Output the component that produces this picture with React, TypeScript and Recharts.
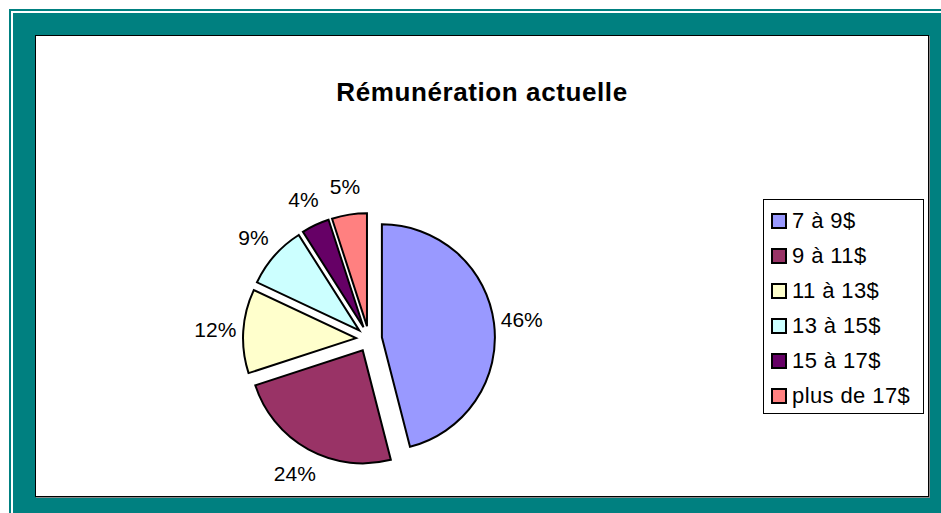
import { PieChart, Pie, Sector, Legend } from 'recharts';

const categories = ['7 à 9$', '9 à 11$', '11 à 13$', '13 à 15$', '15 à 17$', 'plus de 17$'];
const shares = [46, 24, 12, 9, 4, 5];
const colors = ['#9999FF', '#993366', '#FFFFCC', '#CCFFFF', '#660066', '#FF8080'];

const data = categories.map((name, i) => ({ name, value: shares[i] }));

const RADIAN = Math.PI / 180;
const EXPLODE = 13;
const LABEL_RADIUS = 154;
const FONT = '"Liberation Sans", Arial, sans-serif';

// each slice is drawn pushed out along its mid angle, with its percentage further out
function renderSlice(props: any) {
  const { cx, cy, midAngle, outerRadius, startAngle, endAngle, index, percent } = props;
  const cos = Math.cos(-midAngle * RADIAN);
  const sin = Math.sin(-midAngle * RADIAN);
  return (
    <g key={`slice-${index}`}>
      <Sector
        cx={cx + EXPLODE * cos}
        cy={cy + EXPLODE * sin}
        innerRadius={0}
        outerRadius={outerRadius}
        startAngle={startAngle}
        endAngle={endAngle}
        fill={colors[index]}
        stroke="#000"
        strokeWidth={2}
      />
      <text
        x={cx + LABEL_RADIUS * cos}
        y={cy + LABEL_RADIUS * sin}
        textAnchor="middle"
        dominantBaseline="central"
        fontSize={21}
        fontFamily={FONT}
        fill="#000"
      >
        {`${Math.round(percent * 100)}%`}
      </text>
    </g>
  );
}

// legend keeps the series order instead of recharts' alphabetical sort
function LegendBox() {
  return (
    <div
      style={{
        border: '1px solid #000',
        background: '#fff',
        paddingTop: 3,
        width: 159,
        fontFamily: FONT,
        fontSize: 22,
        letterSpacing: 0.4,
        color: '#000',
      }}
    >
      {categories.map((name, i) => (
        <div key={name} style={{ height: 35, display: 'flex', alignItems: 'center' }}>
          <span
            style={{
              width: 12,
              height: 12,
              border: '2px solid #000',
              background: colors[i],
              marginLeft: 7,
              marginRight: 5,
              flex: 'none',
            }}
          />
          <span style={{ whiteSpace: 'nowrap' }}>{name}</span>
        </div>
      ))}
    </div>
  );
}

export default function App() {
  return (
    <div style={{ position: 'relative', width: 941, height: 513, overflow: 'hidden', background: '#fff' }}>
      <style>{'body{margin:0}'}</style>
      <div style={{ position: 'absolute', left: 9, top: 9, width: 960, height: 540, background: '#008080' }} />
      <div
        style={{
          position: 'absolute',
          left: 11,
          top: 11,
          width: 960,
          height: 540,
          borderLeft: '2px solid #fff',
          borderTop: '2px solid #fff',
        }}
      />
      <div
        style={{
          position: 'absolute',
          left: 35,
          top: 35,
          width: 892,
          height: 460,
          background: '#fff',
          border: '1px solid #000',
          boxShadow: '1px 1px 0 #888',
        }}
      />
      <div
        style={{
          position: 'absolute',
          left: 36,
          top: 79,
          width: 892,
          textAlign: 'center',
          fontFamily: FONT,
          fontWeight: 'bold',
          fontSize: 26,
          lineHeight: '26px',
          letterSpacing: 0.6,
          color: '#000',
        }}
      >
        Rémunération actuelle
      </div>
      <div style={{ position: 'absolute', left: 0, top: 0 }}>
        <PieChart width={941} height={513} margin={{ top: 0, right: 0, bottom: 0, left: 0 }}>
          <Pie
            data={data}
            dataKey="value"
            nameKey="name"
            cx={369}
            cy={339}
            outerRadius={113}
            startAngle={90}
            endAngle={-270}
            fill="none"
            stroke="none"
            label={renderSlice}
            labelLine={false}
            isAnimationActive={false}
          />
          <Legend
            content={<LegendBox />}
            wrapperStyle={{ left: 763, top: 199, width: 161, bottom: 'auto', right: 'auto' }}
          />
        </PieChart>
      </div>
    </div>
  );
}
